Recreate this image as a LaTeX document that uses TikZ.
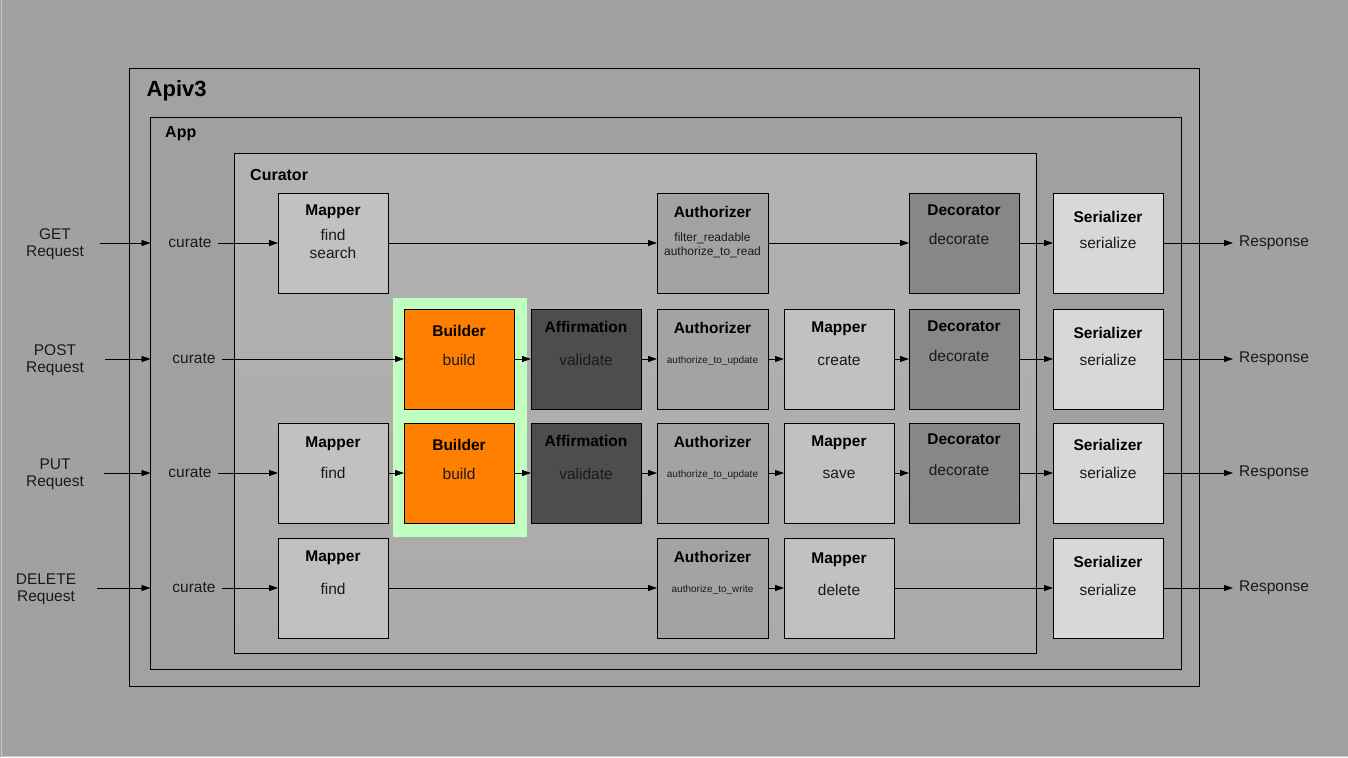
\documentclass[tikz,border=0pt]{standalone}
\usepackage{fontspec}
\setmainfont{Liberation Sans}
\usetikzlibrary{arrows.meta}
\definecolor{bgc}{HTML}{A1A1A1}
\definecolor{edgec}{HTML}{CACACA}
\definecolor{apic}{HTML}{A2A2A2}
\definecolor{appc}{HTML}{A0A0A0}
\definecolor{curtop}{HTML}{B2B2B2}
\definecolor{curbot}{HTML}{AAAAAA}
\definecolor{glowc}{HTML}{C0FFC0}
\definecolor{mapc}{HTML}{C1C1C1}
\definecolor{authc}{HTML}{A3A3A3}
\definecolor{decc}{HTML}{878787}
\definecolor{serc}{HTML}{D8D8D8}
\definecolor{affc}{HTML}{4D4D4D}
\definecolor{bldc}{HTML}{FF7F00}
\definecolor{txt}{HTML}{1A1A1A}
\begin{document}
\begin{tikzpicture}[x=1pt,y=-1pt,
  box/.style={draw=black,line width=1pt,minimum width=110pt,minimum height=100pt,inner sep=0pt,outer sep=0pt,anchor=north west},
  cont/.style={draw=black,line width=1pt,inner sep=0pt,outer sep=0pt,anchor=north west},
  ctitle/.style={font=\fontsize{16}{18}\selectfont\bfseries,anchor=base west,inner sep=0pt,text=black},
  ttl/.style={font=\fontsize{15.5}{18}\selectfont\bfseries,anchor=base,inner sep=0pt,text=black},
  bdy/.style={font=\fontsize{15.5}{18}\selectfont,anchor=base,inner sep=0pt,text=txt},
  sml/.style={font=\fontsize{10}{12}\selectfont,anchor=base,inner sep=0pt,text=txt},
  mid/.style={font=\fontsize{12}{14}\selectfont,anchor=base,inner sep=0pt,text=txt},
  lbl/.style={font=\fontsize{15.5}{17}\selectfont,align=center,inner sep=0pt,text=txt},
  cur/.style={font=\fontsize{15.5}{17}\selectfont,inner sep=0pt,text=txt},
  arr/.style={line width=0.9pt,draw=black,-{Triangle[length=9pt,width=6pt]}},
]
\useasboundingbox (0,0) rectangle (1348,757);
\fill[bgc] (0,0) rectangle (1348,757);
\draw[edgec,line width=1pt] (1.5,0) -- (1.5,756) -- (1348,756);

% containers
\node[cont,fill=apic,minimum width=1070pt,minimum height=617.5pt] (apiv3) at (129.5,68.5) {};
\node[cont,fill=appc,minimum width=1031pt,minimum height=552pt] (app) at (150.5,117.5) {};
\node[cont,top color=curtop,bottom color=curbot,minimum width=802pt,minimum height=500pt] (curator) at (234.5,153.5) {};
\node[ctitle,font=\fontsize{22}{24}\selectfont\bfseries] (apiv3t) at (146.5,97) {Apiv3};
\node[ctitle] (appt) at (165,138) {App};
\node[ctitle] (curatort) at (250,180) {Curator};

% green highlight
\node[anchor=north west,fill=glowc,inner sep=0pt,outer sep=0pt,minimum width=134pt,minimum height=239pt] (glow) at (393,298) {};

% ---------- row 1 (GET) ----------
\node[box,fill=mapc] (m1) at (278,193) {};
\node[box,fill=authc,minimum width=111pt] (au1) at (657,193) {};
\node[box,fill=decc] (d1) at (909,193) {};
\node[box,fill=serc] (s1) at (1053,193) {};

\node[ttl] (m1t) at ([yshift=-22pt]m1.north) {Mapper};
\node[bdy] (m1b) at ([yshift=-47pt]m1.north) {find};
\node[bdy] (m1c) at ([yshift=-65pt]m1.north) {search};
\node[ttl] (au1t) at ([yshift=-24pt]au1.north) {Authorizer};
\node[mid] (au1b) at ([yshift=-48pt]au1.north) {filter\_readable};
\node[mid] (au1c) at ([yshift=-62pt]au1.north) {authorize\_to\_read};
\node[ttl] (d1t) at ([yshift=-22pt]d1.north) {Decorator};
\node[bdy] (d1b) at ([xshift=-5pt,yshift=-51pt]d1.north) {decorate};
\node[ttl] (s1t) at ([yshift=-29pt]s1.north) {Serializer};
\node[bdy] (s1b) at ([yshift=-55pt]s1.north) {serialize};

% ---------- row 2 (POST) ----------
\node[box,fill=bldc] (b2) at (404,309) {};
\node[box,fill=affc] (af2) at (531,309) {};
\node[box,fill=authc,minimum width=111pt] (au2) at (657,309) {};
\node[box,fill=mapc] (m2) at (784,309) {};
\node[box,fill=decc] (d2) at (909,309) {};
\node[box,fill=serc] (s2) at (1053,309) {};

\node[ttl] (b2t) at ([yshift=-27pt]b2.north) {Builder};
\node[bdy] (b2b) at ([yshift=-56pt]b2.north) {build};
\node[ttl] (af2t) at ([yshift=-23pt]af2.north) {Affirmation};
\node[bdy] (af2b) at ([yshift=-56pt]af2.north) {validate};
\node[ttl] (au2t) at ([yshift=-24pt]au2.north) {Authorizer};
\node[sml] (au2b) at ([yshift=-54pt]au2.north) {authorize\_to\_update};
\node[ttl] (m2t) at ([yshift=-23pt]m2.north) {Mapper};
\node[bdy] (m2b) at ([yshift=-56pt]m2.north) {create};
\node[ttl] (d2t) at ([yshift=-22pt]d2.north) {Decorator};
\node[bdy] (d2b) at ([xshift=-5pt,yshift=-52pt]d2.north) {decorate};
\node[ttl] (s2t) at ([yshift=-29pt]s2.north) {Serializer};
\node[bdy] (s2b) at ([yshift=-56pt]s2.north) {serialize};

% ---------- row 3 (PUT) ----------
\node[box,fill=mapc] (m3) at (278,423) {};
\node[box,fill=bldc] (b3) at (404,423) {};
\node[box,fill=affc] (af3) at (531,423) {};
\node[box,fill=authc,minimum width=111pt] (au3) at (657,423) {};
\node[box,fill=mapc] (mm3) at (784,423) {};
\node[box,fill=decc] (d3) at (909,423) {};
\node[box,fill=serc] (s3) at (1053,423) {};

\node[ttl] (m3t) at ([yshift=-24pt]m3.north) {Mapper};
\node[bdy] (m3b) at ([yshift=-55pt]m3.north) {find};
\node[ttl] (b3t) at ([yshift=-27pt]b3.north) {Builder};
\node[bdy] (b3b) at ([yshift=-56pt]b3.north) {build};
\node[ttl] (af3t) at ([yshift=-23pt]af3.north) {Affirmation};
\node[bdy] (af3b) at ([yshift=-56pt]af3.north) {validate};
\node[ttl] (au3t) at ([yshift=-24pt]au3.north) {Authorizer};
\node[sml] (au3b) at ([yshift=-54pt]au3.north) {authorize\_to\_update};
\node[ttl] (mm3t) at ([yshift=-23pt]mm3.north) {Mapper};
\node[bdy] (mm3b) at ([yshift=-55pt]mm3.north) {save};
\node[ttl] (d3t) at ([yshift=-21pt]d3.north) {Decorator};
\node[bdy] (d3b) at ([xshift=-5pt,yshift=-52pt]d3.north) {decorate};
\node[ttl] (s3t) at ([yshift=-27pt]s3.north) {Serializer};
\node[bdy] (s3b) at ([yshift=-55pt]s3.north) {serialize};

% ---------- row 4 (DELETE) ----------
\node[box,fill=mapc] (m4) at (278,538) {};
\node[box,fill=authc,minimum width=111pt] (au4) at (657,538) {};
\node[box,fill=mapc] (mm4) at (784,538) {};
\node[box,fill=serc] (s4) at (1053,538) {};

\node[ttl] (m4t) at ([yshift=-23pt]m4.north) {Mapper};
\node[bdy] (m4b) at ([yshift=-56pt]m4.north) {find};
\node[ttl] (au4t) at ([yshift=-24pt]au4.north) {Authorizer};
\node[sml] (au4b) at ([yshift=-54pt]au4.north) {authorize\_to\_write};
\node[ttl] (mm4t) at ([yshift=-25pt]mm4.north) {Mapper};
\node[bdy] (mm4b) at ([yshift=-57pt]mm4.north) {delete};
\node[ttl] (s4t) at ([yshift=-29pt]s4.north) {Serializer};
\node[bdy] (s4b) at ([yshift=-57pt]s4.north) {serialize};

% ---------- requests, curate, responses ----------
\node[lbl] (get) at (55,244.5) {GET\\Request};
\node[lbl] (post) at (55,360.5) {POST\\Request};
\node[lbl] (put) at (55,474.5) {PUT\\Request};
\node[lbl] (del) at (46,589.5) {DELETE\\Request};

\node[cur] (cur1) at (190,243) {curate};
\node[cur] (cur2) at (194,359) {curate};
\node[cur] (cur3) at (190,473) {curate};
\node[cur] (cur4) at (194,588) {curate};

\node[cur,anchor=west] (resp1) at (1239,243) {Response};
\node[cur,anchor=west] (resp2) at (1239,359) {Response};
\node[cur,anchor=west] (resp3) at (1239,473) {Response};
\node[cur,anchor=west] (resp4) at (1239,588) {Response};

% ---------- connectors ----------
\draw[arr,shorten <=16pt] (get.east |- cur1) -- (cur1 -| app.west);
\draw[arr,shorten <=21pt] (post.east |- cur2) -- (cur2 -| app.west);
\draw[arr,shorten <=20pt] (put.east |- cur3) -- (cur3 -| app.west);
\draw[arr,shorten <=21pt] (del.east |- cur4) -- (cur4 -| app.west);

% row 1
\draw[arr,shorten <=6pt] (cur1.east) -- (m1.west);
\draw[arr] (m1.east) -- (au1.west);
\draw[arr] (au1.east) -- (d1.west);
\draw[arr] (d1.east) -- (s1.west);
\draw[arr,shorten >=6pt] (s1.east) -- (resp1.west);

% row 2
\draw[arr,shorten <=6pt] (cur2.east) -- (b2.west);
\draw[arr] (b2.east) -- (af2.west);
\draw[arr] (af2.east) -- (au2.west);
\draw[arr] (au2.east) -- (m2.west);
\draw[arr] (m2.east) -- (d2.west);
\draw[arr] (d2.east) -- (s2.west);
\draw[arr,shorten >=6pt] (s2.east) -- (resp2.west);

% row 3
\draw[arr,shorten <=6pt] (cur3.east) -- (m3.west);
\draw[arr] (m3.east) -- (b3.west);
\draw[arr] (b3.east) -- (af3.west);
\draw[arr] (af3.east) -- (au3.west);
\draw[arr] (au3.east) -- (mm3.west);
\draw[arr] (mm3.east) -- (d3.west);
\draw[arr] (d3.east) -- (s3.west);
\draw[arr,shorten >=6pt] (s3.east) -- (resp3.west);

% row 4
\draw[arr,shorten <=6pt] (cur4.east) -- (m4.west);
\draw[arr] (m4.east) -- (au4.west);
\draw[arr] (au4.east) -- (mm4.west);
\draw[arr] (mm4.east) -- (s4.west);
\draw[arr,shorten >=6pt] (s4.east) -- (resp4.west);
\end{tikzpicture}
\end{document}
